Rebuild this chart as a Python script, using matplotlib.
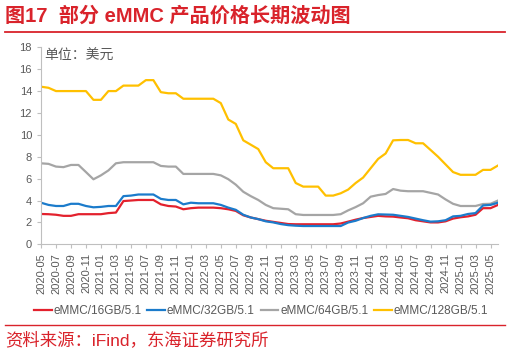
import numpy as np
import matplotlib
matplotlib.use("Agg")
import matplotlib.pyplot as plt
from matplotlib.lines import Line2D

plt.rcParams['font.family'] = ['Liberation Sans', 'Noto Sans CJK SC', 'DejaVu Sans']

# monthly points, 2020-05 .. 2025-06
months = [f"{2020 + (4 + i) // 12}-{(4 + i) % 12 + 1:02d}" for i in range(62)]

emmc_16 = [2.77, 2.75, 2.7, 2.6, 2.6, 2.75, 2.75, 2.75, 2.75, 2.85,
           2.9, 3.95, 4.0, 4.05, 4.05, 4.05, 3.65, 3.5, 3.45, 3.2,
           3.3, 3.35, 3.35, 3.35, 3.3, 3.2, 3.05, 2.65, 2.45, 2.3,
           2.15, 2.05, 1.95, 1.85, 1.83, 1.83, 1.83, 1.83, 1.83, 1.83,
           1.9, 2.07, 2.25, 2.4, 2.5, 2.6, 2.55, 2.53, 2.45, 2.38,
           2.2, 2.1, 2.0, 2.0, 2.1, 2.35, 2.47, 2.55, 2.7, 3.3,
           3.3, 3.6]
emmc_32 = [3.8, 3.6, 3.5, 3.5, 3.7, 3.7, 3.5, 3.38, 3.42, 3.5,
           3.5, 4.4, 4.45, 4.55, 4.55, 4.55, 4.15, 4.05, 4.05, 3.65,
           3.8, 3.75, 3.75, 3.75, 3.6, 3.35, 3.15, 2.7, 2.45, 2.3,
           2.1, 2.0, 1.85, 1.75, 1.7, 1.67, 1.67, 1.67, 1.67, 1.67,
           1.67, 1.99, 2.15, 2.4, 2.6, 2.74, 2.72, 2.7, 2.6, 2.5,
           2.35, 2.2, 2.07, 2.1, 2.2, 2.55, 2.6, 2.77, 2.85, 3.55,
           3.6, 3.8]
emmc_64 = [7.4, 7.35, 7.1, 7.05, 7.25, 7.25, 6.6, 5.94, 6.3, 6.75,
           7.4, 7.5, 7.5, 7.5, 7.5, 7.5, 7.16, 7.1, 7.1, 6.43,
           6.43, 6.43, 6.43, 6.43, 6.3, 5.95, 5.45, 4.8, 4.4, 4.05,
           3.6, 3.3, 3.25, 3.2, 2.75, 2.68, 2.68, 2.68, 2.68, 2.68,
           2.75, 3.1, 3.4, 3.75, 4.35, 4.5, 4.6, 5.05, 4.9, 4.85,
           4.85, 4.85, 4.7, 4.55, 4.1, 3.7, 3.5, 3.5, 3.5, 3.68,
           3.7, 4.0]
emmc_128 = [14.4, 14.3, 14.0, 14.0, 14.0, 14.0, 14.0, 13.2, 13.2, 14.0,
            14.0, 14.5, 14.5, 14.5, 15.0, 15.0, 13.9, 13.8, 13.8, 13.3,
            13.3, 13.3, 13.3, 13.3, 12.9, 11.4, 11.0, 9.5, 9.1, 8.7,
            7.5, 6.95, 6.95, 6.95, 5.6, 5.27, 5.27, 5.27, 4.45, 4.45,
            4.66, 5.0, 5.6, 6.1, 6.95, 7.8, 8.3, 9.5, 9.53, 9.53,
            9.23, 9.23, 8.62, 8.0, 7.3, 6.6, 6.35, 6.35, 6.35, 6.8,
            6.8, 7.2]

series = [("eMMC/16GB/5.1", emmc_16, "#E3212D"),
          ("eMMC/32GB/5.1", emmc_32, "#1B7BCB"),
          ("eMMC/64GB/5.1", emmc_64, "#A5A5A5"),
          ("eMMC/128GB/5.1", emmc_128, "#FFC000")]

red = "#D9232B"
grey_txt = "#595959"

fig = plt.figure(figsize=(5.1, 3.53), dpi=100)
ax = fig.add_axes([41 / 510, 108.7 / 353, 457 / 510, 197 / 353])

x = np.arange(len(months))
for name, vals, col in [series[2], series[3], series[0], series[1]]:
    ax.plot(x, vals, color=col, lw=1.6, solid_joinstyle='round')

ax.set_xlim(0, 61)
ax.set_ylim(0, 18)
ax.set_yticks(range(0, 19, 2))
ax.set_xticks(x[::2][:31])
ax.set_xticklabels(months[::2][:31], rotation=90)
ax.tick_params(axis='both', colors='#BFBFBF', labelcolor=grey_txt,
               labelsize=8, length=3, width=0.8)
for s in ['top', 'right']:
    ax.spines[s].set_visible(False)
for s in ['left', 'bottom']:
    ax.spines[s].set_color('#BFBFBF')
    ax.spines[s].set_linewidth(0.8)

ax.text(0.008, 0.99, "单位：美元", transform=ax.transAxes, fontsize=10,
        color=grey_txt, va='top', ha='left')

handles = [Line2D([0], [0], color=c, lw=1.6) for _, _, c in series]
fig.legend(handles, [n for n, _, _ in series], loc='center',
           bbox_to_anchor=(261 / 510, 1 - 311 / 353), ncol=4, frameon=False,
           fontsize=8.5, handlelength=1.5, handletextpad=0.15, columnspacing=0.5,
           labelcolor=grey_txt)

fig.text(5 / 510, 1 - 16 / 353, "图17  部分 eMMC 产品价格长期波动图", color=red,
         fontsize=14.5, fontweight='bold', va='center', ha='left')
fig.add_artist(Line2D([5 / 510, 505 / 510], [1 - 32 / 353] * 2, color=red, lw=1.3))
fig.add_artist(Line2D([5 / 510, 505 / 510], [1 - 325 / 353] * 2, color=red, lw=1.0))
fig.text(5 / 510, 1 - 340 / 353, "资料来源：iFind，东海证券研究所", color=red,
         fontsize=12.5, va='center', ha='left')

fig.savefig("out.png", dpi=100)
